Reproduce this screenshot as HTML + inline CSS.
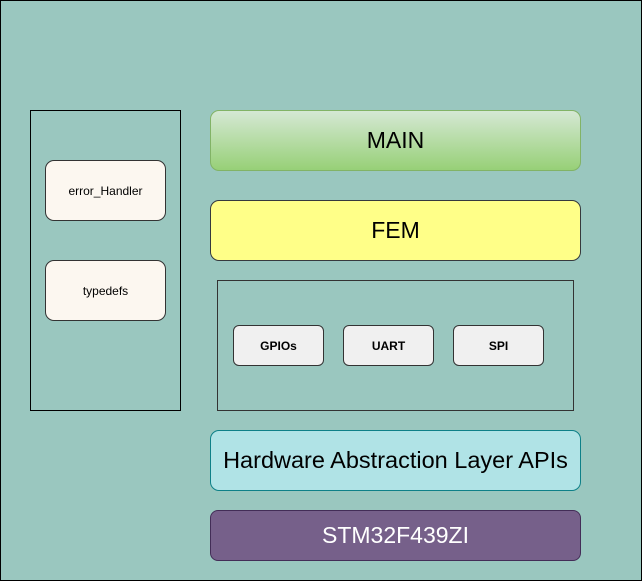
<!DOCTYPE html>
<html><head><style>
body{margin:0;width:642px;height:581px;overflow:hidden;font-family:"Liberation Sans",sans-serif}
.c{position:absolute;box-sizing:border-box;display:flex;align-items:center;justify-content:center;text-align:center}
</style></head><body>
<div class="c" style="left:0;top:0;width:642px;height:581px;background:#9ac7bf;border:1px solid #000"></div>
<div class="c" style="left:30px;top:110px;width:151px;height:301px;border:1px solid #000"></div>
<div class="c" style="left:45px;top:160px;width:121px;height:61px;background:#fcf7f0;border:1px solid #333;border-radius:9px;font-size:12px">error_Handler</div>
<div class="c" style="left:45px;top:260px;width:121px;height:61px;background:#fcf7f0;border:1px solid #333;border-radius:9px;font-size:12px">typedefs</div>
<div class="c" style="left:210px;top:110px;width:371px;height:61px;background:linear-gradient(#d5e8d4,#97d077);border:1px solid #82b366;border-radius:9px;font-size:23px">MAIN</div>
<div class="c" style="left:210px;top:200px;width:371px;height:61px;background:#ffff88;border:1px solid #36393d;border-radius:9px;font-size:23px">FEM</div>
<div class="c" style="left:217px;top:280px;width:357px;height:131px;border:1px solid #333"></div>
<div class="c" style="left:233px;top:325px;width:91px;height:41px;background:#f0f0f0;border:1px solid #333;border-radius:6px;font-size:12px;font-weight:bold">GPIOs</div>
<div class="c" style="left:343px;top:325px;width:91px;height:41px;background:#f0f0f0;border:1px solid #333;border-radius:6px;font-size:12px;font-weight:bold">UART</div>
<div class="c" style="left:453px;top:325px;width:91px;height:41px;background:#f0f0f0;border:1px solid #333;border-radius:6px;font-size:12px;font-weight:bold">SPI</div>
<div class="c" style="left:210px;top:430px;width:371px;height:61px;background:#b0e3e6;border:1px solid #0e8088;border-radius:9px;font-size:23.5px">Hardware Abstraction Layer APIs</div>
<div class="c" style="left:210px;top:510px;width:371px;height:51px;background:#76608a;border:1px solid #432d57;border-radius:8px;font-size:23px;color:#fff">STM32F439ZI</div>
</body></html>
